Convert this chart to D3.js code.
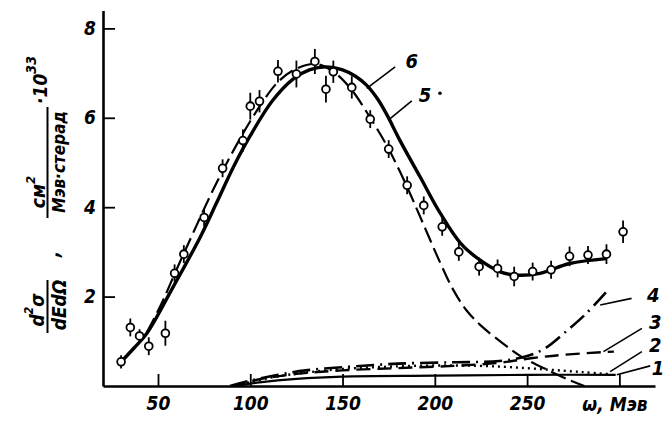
<!DOCTYPE html>
<html>
<head>
<meta charset="utf-8">
<script src="https://cdn.jsdelivr.net/npm/d3@7"></script>
<style>
  body { margin: 0; background: #fff; }
  svg { display: block; }
  text { font-family: "DejaVu Sans Condensed", "DejaVu Sans", sans-serif; font-stretch: condensed;
         font-weight: bold; font-style: italic; fill: #000; }
</style>
</head>
<body>
<svg id="chart" width="665" height="421"></svg>
<script>
// measured points: photon energy (MeV) and cross section (x10^-33)
const omega = [30, 35, 40, 45, 54, 59, 64, 75, 85, 96, 100, 105, 115, 125, 135, 141, 145,
  155, 165, 175, 185, 194, 204, 213, 224, 234, 243, 253, 263, 273, 283, 293, 302];
const sigma = [0.54, 1.31, 1.12, 0.89, 1.18, 2.52, 2.95, 3.77, 4.87, 5.49, 6.26, 6.37, 7.04,
  6.98, 7.26, 6.64, 7.03, 6.68, 5.97, 5.30, 4.49, 4.04, 3.56, 3.00, 2.67, 2.63, 2.45, 2.56,
  2.60, 2.90, 2.93, 2.95, 3.45];
const sigmaErr = [0.15, 0.2, 0.15, 0.2, 0.28, 0.2, 0.2, 0.2, 0.2, 0.25, 0.3, 0.25, 0.25,
  0.3, 0.28, 0.3, 0.25, 0.25, 0.2, 0.2, 0.2, 0.2, 0.2, 0.2, 0.2, 0.2, 0.22, 0.2, 0.2, 0.22,
  0.2, 0.22, 0.25];

// theory curves, [omega, value]
const curve6 = [[30, 0.54], [37, 0.85], [44, 1.18], [58, 2.2], [73, 3.34], [82, 4.12],
  [91, 4.91], [100, 5.6], [112, 6.38], [123, 6.86], [132, 7.07], [141, 7.14], [150, 7.07],
  [157, 6.93], [163, 6.73], [169, 6.42], [174, 6.07], [181, 5.5], [192, 4.68], [203, 3.86],
  [214, 3.19], [224, 2.83], [235, 2.56], [244, 2.48], [257, 2.52], [273, 2.74], [293, 2.85]];
const curve5 = [[44, 1.2], [52, 1.85], [60, 2.6], [69, 3.42], [80, 4.4], [94, 5.5],
  [105, 6.25], [115, 6.8], [125, 7.1], [136, 7.2], [146, 7.0], [155, 6.62], [165, 6.0],
  [175, 5.3], [185, 4.45], [194, 3.6], [203, 2.75], [210, 2.15], [217, 1.7], [225, 1.35],
  [237, 0.95], [246, 0.68], [261, 0.36], [273, 0.13], [281, 0]];
const curve4 = [[89, 0], [100, 0.12], [115, 0.25], [130, 0.35], [150, 0.42], [180, 0.5],
  [210, 0.53], [235, 0.56], [250, 0.67], [260, 0.85], [270, 1.18], [282, 1.62], [293, 2.11]];
const curve3 = [[90, 0], [105, 0.15], [125, 0.27], [150, 0.35], [180, 0.4], [210, 0.45],
  [235, 0.52], [252, 0.62], [270, 0.7], [297, 0.77]];
const curve2 = [[92, 0], [110, 0.18], [130, 0.3], [150, 0.38], [180, 0.44], [210, 0.46],
  [237, 0.43], [260, 0.37], [280, 0.31], [296, 0.26]];
const curve1 = [[92, 0], [105, 0.08], [125, 0.16], [150, 0.21], [200, 0.23], [250, 0.25],
  [298, 0.25]];

const xTicks = [50, 100, 150, 200, 250, 300];
const xTickLabels = ["50", "100", "150", "200", "250", ""];
const yTicks = [2, 4, 6, 8];

// curve labels: text, label anchor, leader start, leader end (data coords)
const curveLabels = [
  {name: "6", at: [187.5, 7.26], from: [178.5, 7.14], to: [163.1, 6.66]},
  {name: "5", at: [194.7, 6.5], from: [187.5, 6.38], to: [174.8, 5.95]},
  {name: "4", at: [318.3, 2.04], from: [306.6, 1.96], to: [289.6, 1.81]},
  {name: "3", at: [319.4, 1.43], from: [312.2, 1.29], to: [291.4, 0.77]},
  {name: "2", at: [319.4, 0.92], from: [312.2, 0.77], to: [295, 0.32]},
  {name: "1", at: [321, 0.40], from: [316.7, 0.45], to: [298.6, 0.25]}
];

const svg = d3.select("#chart");
const x = d3.scaleLinear().domain([20.2, 319.3]).range([103, 655]);
const y = d3.scaleLinear().domain([0, 8.4]).range([386, 10.5]);

const line = d3.line().x(d => x(d[0])).y(d => y(d[1])).curve(d3.curveCatmullRom.alpha(0.5));

// axes
const xAxis = svg.append("g").attr("transform", "translate(0,386)")
  .call(d3.axisBottom(x).tickValues(xTicks).tickSizeInner(-12).tickSizeOuter(0)
    .tickPadding(11).tickFormat((d, i) => xTickLabels[i]));
xAxis.select(".domain").attr("stroke-width", 2.6);
xAxis.selectAll(".tick line").attr("stroke-width", 1.8);
xAxis.selectAll("text").attr("font-size", 19).attr("font-family", null).attr("fill", null);

const yAxis = svg.append("g").attr("transform", "translate(103,0)")
  .call(d3.axisLeft(y).tickValues(yTicks).tickSizeInner(-12).tickSizeOuter(0).tickPadding(7));
yAxis.select(".domain").attr("stroke-width", 2.6);
yAxis.selectAll(".tick line").attr("stroke-width", 1.8);
yAxis.selectAll("text").attr("font-size", 19).attr("font-family", null).attr("fill", null);

// curves
const curves = [
  {data: curve1, width: 2.2, dash: null},
  {data: curve2, width: 2.4, dash: "2,4"},
  {data: curve3, width: 2.4, dash: "14,7"},
  {data: curve4, width: 2.6, dash: "18,6,2,6"},
  {data: curve5, width: 2.2, dash: "16,6"},
  {data: curve6, width: 3.4, dash: null}
];
svg.append("g").selectAll("path").data(curves).join("path")
  .attr("d", d => line(d.data))
  .attr("fill", "none").attr("stroke", "#000")
  .attr("stroke-width", d => d.width)
  .attr("stroke-dasharray", d => d.dash);

// leaders and curve numbers
const labels = svg.append("g");
labels.selectAll("line").data(curveLabels).join("line")
  .attr("x1", d => x(d.from[0])).attr("y1", d => y(d.from[1]))
  .attr("x2", d => x(d.to[0])).attr("y2", d => y(d.to[1]))
  .attr("stroke", "#000").attr("stroke-width", 1.6);
labels.selectAll("text").data(curveLabels).join("text")
  .attr("x", d => x(d.at[0])).attr("y", d => y(d.at[1]))
  .attr("text-anchor", "middle").attr("dominant-baseline", "central")
  .attr("font-size", 20).text(d => d.name);
svg.append("circle").attr("cx", x(202.8)).attr("cy", y(6.55)).attr("r", 1.8).attr("fill", "#000");

// data points with error bars
const pts = svg.append("g").selectAll("g").data(omega.map((w, i) => i)).join("g");
pts.append("line")
  .attr("x1", i => x(omega[i])).attr("x2", i => x(omega[i]))
  .attr("y1", i => y(sigma[i] - sigmaErr[i])).attr("y2", i => y(sigma[i] + sigmaErr[i]))
  .attr("stroke", "#000").attr("stroke-width", 1.8);
pts.append("circle")
  .attr("cx", i => x(omega[i])).attr("cy", i => y(sigma[i])).attr("r", 3.9)
  .attr("fill", "#fff").attr("stroke", "#000").attr("stroke-width", 1.8);

// x axis title
svg.append("text").attr("x", 615).attr("y", 411).attr("text-anchor", "middle")
  .attr("font-size", 19).text("ω, Мэв");

// y axis title, rotated pieces
const rot = (cx, cy) => svg.append("text")
  .attr("transform", `translate(${cx},${cy}) rotate(-90)`)
  .attr("text-anchor", "middle").attr("dominant-baseline", "central").attr("font-size", 19);

const num = rot(37, 310);
num.append("tspan").text("d");
num.append("tspan").attr("font-size", 12).attr("dy", -8).text("2");
num.append("tspan").attr("dy", 8).text("σ");
rot(59, 305).text("dEdΩ");
svg.append("line").attr("x1", 47.5).attr("x2", 47.5).attr("y1", 280).attr("y2", 333)
  .attr("stroke", "#000").attr("stroke-width", 2);
rot(52, 254).text(",");

const cm = rot(38, 192);
cm.append("tspan").text("см");
cm.append("tspan").attr("font-size", 13).attr("dy", -8).text("2");
svg.append("line").attr("x1", 47.5).attr("x2", 47.5).attr("y1", 107).attr("y2", 218)
  .attr("stroke", "#000").attr("stroke-width", 2);
rot(59, 162).attr("font-size", 17).text("Мэв·стерад");

const pow = rot(40, 80);
pow.append("tspan").text("·10");
pow.append("tspan").attr("font-size", 14).attr("dy", -9).text("33");
</script>
</body>
</html>
